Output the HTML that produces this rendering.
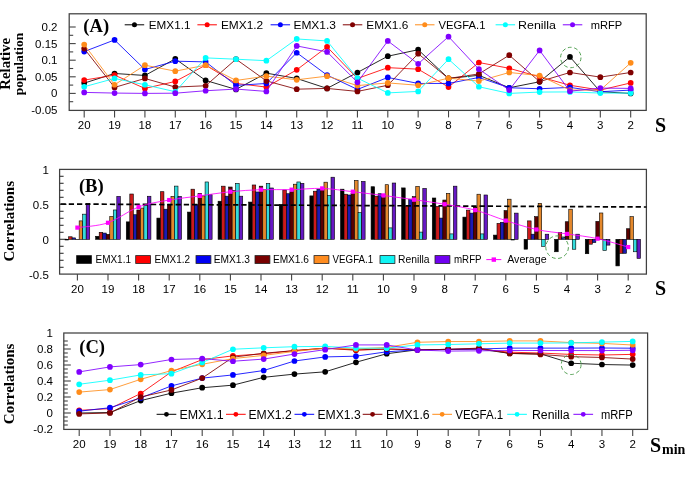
<!DOCTYPE html>
<html><head><meta charset="utf-8"><style>
html,body{margin:0;padding:0;background:#fff;width:685px;height:479px;overflow:hidden}
svg{display:block;will-change:transform}
</style></head><body>
<svg width="685" height="479" viewBox="0 0 685 479">
<rect width="685" height="479" fill="#fff"/>
<rect x="69.2" y="13.8" width="577.0" height="96.60000000000001" fill="none" stroke="#404040" stroke-width="1.25"/>
<line x1="69.2" y1="101.70" x2="73.2" y2="101.70" stroke="#444" stroke-width="1.1"/>
<line x1="69.2" y1="93.40" x2="75.7" y2="93.40" stroke="#444" stroke-width="1.1"/>
<line x1="69.2" y1="85.10" x2="73.2" y2="85.10" stroke="#444" stroke-width="1.1"/>
<line x1="69.2" y1="76.80" x2="75.7" y2="76.80" stroke="#444" stroke-width="1.1"/>
<line x1="69.2" y1="68.50" x2="73.2" y2="68.50" stroke="#444" stroke-width="1.1"/>
<line x1="69.2" y1="60.20" x2="75.7" y2="60.20" stroke="#444" stroke-width="1.1"/>
<line x1="69.2" y1="51.90" x2="73.2" y2="51.90" stroke="#444" stroke-width="1.1"/>
<line x1="69.2" y1="43.60" x2="75.7" y2="43.60" stroke="#444" stroke-width="1.1"/>
<line x1="69.2" y1="35.30" x2="73.2" y2="35.30" stroke="#444" stroke-width="1.1"/>
<line x1="69.2" y1="27.00" x2="75.7" y2="27.00" stroke="#444" stroke-width="1.1"/>
<text x="57.5" y="31.00" text-anchor="end" font-size="11.5" font-family="Liberation Sans, sans-serif">0.2</text>
<text x="57.5" y="47.60" text-anchor="end" font-size="11.5" font-family="Liberation Sans, sans-serif">0.15</text>
<text x="57.5" y="64.20" text-anchor="end" font-size="11.5" font-family="Liberation Sans, sans-serif">0.1</text>
<text x="57.5" y="80.80" text-anchor="end" font-size="11.5" font-family="Liberation Sans, sans-serif">0.05</text>
<text x="57.5" y="97.40" text-anchor="end" font-size="11.5" font-family="Liberation Sans, sans-serif">0</text>
<text x="57.5" y="114.00" text-anchor="end" font-size="11.5" font-family="Liberation Sans, sans-serif">-0.05</text>
<line x1="84.20" y1="110.4" x2="84.20" y2="117.4" stroke="#444" stroke-width="1.1"/>
<text x="84.20" y="128.8" text-anchor="middle" font-size="11.5" font-family="Liberation Sans, sans-serif">20</text>
<line x1="114.56" y1="110.4" x2="114.56" y2="117.4" stroke="#444" stroke-width="1.1"/>
<text x="114.56" y="128.8" text-anchor="middle" font-size="11.5" font-family="Liberation Sans, sans-serif">19</text>
<line x1="144.92" y1="110.4" x2="144.92" y2="117.4" stroke="#444" stroke-width="1.1"/>
<text x="144.92" y="128.8" text-anchor="middle" font-size="11.5" font-family="Liberation Sans, sans-serif">18</text>
<line x1="175.28" y1="110.4" x2="175.28" y2="117.4" stroke="#444" stroke-width="1.1"/>
<text x="175.28" y="128.8" text-anchor="middle" font-size="11.5" font-family="Liberation Sans, sans-serif">17</text>
<line x1="205.64" y1="110.4" x2="205.64" y2="117.4" stroke="#444" stroke-width="1.1"/>
<text x="205.64" y="128.8" text-anchor="middle" font-size="11.5" font-family="Liberation Sans, sans-serif">16</text>
<line x1="236.00" y1="110.4" x2="236.00" y2="117.4" stroke="#444" stroke-width="1.1"/>
<text x="236.00" y="128.8" text-anchor="middle" font-size="11.5" font-family="Liberation Sans, sans-serif">15</text>
<line x1="266.36" y1="110.4" x2="266.36" y2="117.4" stroke="#444" stroke-width="1.1"/>
<text x="266.36" y="128.8" text-anchor="middle" font-size="11.5" font-family="Liberation Sans, sans-serif">14</text>
<line x1="296.72" y1="110.4" x2="296.72" y2="117.4" stroke="#444" stroke-width="1.1"/>
<text x="296.72" y="128.8" text-anchor="middle" font-size="11.5" font-family="Liberation Sans, sans-serif">13</text>
<line x1="327.08" y1="110.4" x2="327.08" y2="117.4" stroke="#444" stroke-width="1.1"/>
<text x="327.08" y="128.8" text-anchor="middle" font-size="11.5" font-family="Liberation Sans, sans-serif">12</text>
<line x1="357.44" y1="110.4" x2="357.44" y2="117.4" stroke="#444" stroke-width="1.1"/>
<text x="357.44" y="128.8" text-anchor="middle" font-size="11.5" font-family="Liberation Sans, sans-serif">11</text>
<line x1="387.80" y1="110.4" x2="387.80" y2="117.4" stroke="#444" stroke-width="1.1"/>
<text x="387.80" y="128.8" text-anchor="middle" font-size="11.5" font-family="Liberation Sans, sans-serif">10</text>
<line x1="418.16" y1="110.4" x2="418.16" y2="117.4" stroke="#444" stroke-width="1.1"/>
<text x="418.16" y="128.8" text-anchor="middle" font-size="11.5" font-family="Liberation Sans, sans-serif">9</text>
<line x1="448.52" y1="110.4" x2="448.52" y2="117.4" stroke="#444" stroke-width="1.1"/>
<text x="448.52" y="128.8" text-anchor="middle" font-size="11.5" font-family="Liberation Sans, sans-serif">8</text>
<line x1="478.88" y1="110.4" x2="478.88" y2="117.4" stroke="#444" stroke-width="1.1"/>
<text x="478.88" y="128.8" text-anchor="middle" font-size="11.5" font-family="Liberation Sans, sans-serif">7</text>
<line x1="509.24" y1="110.4" x2="509.24" y2="117.4" stroke="#444" stroke-width="1.1"/>
<text x="509.24" y="128.8" text-anchor="middle" font-size="11.5" font-family="Liberation Sans, sans-serif">6</text>
<line x1="539.60" y1="110.4" x2="539.60" y2="117.4" stroke="#444" stroke-width="1.1"/>
<text x="539.60" y="128.8" text-anchor="middle" font-size="11.5" font-family="Liberation Sans, sans-serif">5</text>
<line x1="569.96" y1="110.4" x2="569.96" y2="117.4" stroke="#444" stroke-width="1.1"/>
<text x="569.96" y="128.8" text-anchor="middle" font-size="11.5" font-family="Liberation Sans, sans-serif">4</text>
<line x1="600.32" y1="110.4" x2="600.32" y2="117.4" stroke="#444" stroke-width="1.1"/>
<text x="600.32" y="128.8" text-anchor="middle" font-size="11.5" font-family="Liberation Sans, sans-serif">3</text>
<line x1="630.68" y1="110.4" x2="630.68" y2="117.4" stroke="#444" stroke-width="1.1"/>
<text x="630.68" y="128.8" text-anchor="middle" font-size="11.5" font-family="Liberation Sans, sans-serif">2</text>
<polyline points="84.20,83.11 114.56,73.48 144.92,75.47 175.28,58.87 205.64,80.45 236.00,89.42 266.36,73.15 296.72,78.46 327.08,88.42 357.44,72.48 387.80,56.22 418.16,49.71 448.52,78.46 478.88,75.31 509.24,87.76 539.60,81.78 569.96,56.88 600.32,91.74 630.68,93.40" fill="none" stroke="#000000" stroke-width="0.85"/>
<circle cx="84.20" cy="83.11" r="2.85" fill="#000000"/>
<circle cx="114.56" cy="73.48" r="2.85" fill="#000000"/>
<circle cx="144.92" cy="75.47" r="2.85" fill="#000000"/>
<circle cx="175.28" cy="58.87" r="2.85" fill="#000000"/>
<circle cx="205.64" cy="80.45" r="2.85" fill="#000000"/>
<circle cx="236.00" cy="89.42" r="2.85" fill="#000000"/>
<circle cx="266.36" cy="73.15" r="2.85" fill="#000000"/>
<circle cx="296.72" cy="78.46" r="2.85" fill="#000000"/>
<circle cx="327.08" cy="88.42" r="2.85" fill="#000000"/>
<circle cx="357.44" cy="72.48" r="2.85" fill="#000000"/>
<circle cx="387.80" cy="56.22" r="2.85" fill="#000000"/>
<circle cx="418.16" cy="49.71" r="2.85" fill="#000000"/>
<circle cx="448.52" cy="78.46" r="2.85" fill="#000000"/>
<circle cx="478.88" cy="75.31" r="2.85" fill="#000000"/>
<circle cx="509.24" cy="87.76" r="2.85" fill="#000000"/>
<circle cx="539.60" cy="81.78" r="2.85" fill="#000000"/>
<circle cx="569.96" cy="56.88" r="2.85" fill="#000000"/>
<circle cx="600.32" cy="91.74" r="2.85" fill="#000000"/>
<circle cx="630.68" cy="93.40" r="2.85" fill="#000000"/>
<polyline points="84.20,80.12 114.56,75.14 144.92,88.42 175.28,81.45 205.64,65.18 236.00,83.44 266.36,87.09 296.72,69.83 327.08,46.92 357.44,78.46 387.80,67.67 418.16,69.16 448.52,87.09 478.88,62.52 509.24,68.30 539.60,76.80 569.96,85.27 600.32,90.08 630.68,82.91" fill="none" stroke="#ff0000" stroke-width="0.85"/>
<circle cx="84.20" cy="80.12" r="2.85" fill="#ff0000"/>
<circle cx="114.56" cy="75.14" r="2.85" fill="#ff0000"/>
<circle cx="144.92" cy="88.42" r="2.85" fill="#ff0000"/>
<circle cx="175.28" cy="81.45" r="2.85" fill="#ff0000"/>
<circle cx="205.64" cy="65.18" r="2.85" fill="#ff0000"/>
<circle cx="236.00" cy="83.44" r="2.85" fill="#ff0000"/>
<circle cx="266.36" cy="87.09" r="2.85" fill="#ff0000"/>
<circle cx="296.72" cy="69.83" r="2.85" fill="#ff0000"/>
<circle cx="327.08" cy="46.92" r="2.85" fill="#ff0000"/>
<circle cx="357.44" cy="78.46" r="2.85" fill="#ff0000"/>
<circle cx="387.80" cy="67.67" r="2.85" fill="#ff0000"/>
<circle cx="418.16" cy="69.16" r="2.85" fill="#ff0000"/>
<circle cx="448.52" cy="87.09" r="2.85" fill="#ff0000"/>
<circle cx="478.88" cy="62.52" r="2.85" fill="#ff0000"/>
<circle cx="509.24" cy="68.30" r="2.85" fill="#ff0000"/>
<circle cx="539.60" cy="76.80" r="2.85" fill="#ff0000"/>
<circle cx="569.96" cy="85.27" r="2.85" fill="#ff0000"/>
<circle cx="600.32" cy="90.08" r="2.85" fill="#ff0000"/>
<circle cx="630.68" cy="82.91" r="2.85" fill="#ff0000"/>
<polyline points="84.20,51.57 114.56,39.95 144.92,69.50 175.28,61.20 205.64,61.86 236.00,85.43 266.36,83.44 296.72,52.73 327.08,75.14 357.44,89.42 387.80,77.46 418.16,83.44 448.52,83.44 478.88,77.46 509.24,87.76 539.60,88.75 569.96,87.42 600.32,91.74 630.68,90.08" fill="none" stroke="#0000ff" stroke-width="0.85"/>
<circle cx="84.20" cy="51.57" r="2.85" fill="#0000ff"/>
<circle cx="114.56" cy="39.95" r="2.85" fill="#0000ff"/>
<circle cx="144.92" cy="69.50" r="2.85" fill="#0000ff"/>
<circle cx="175.28" cy="61.20" r="2.85" fill="#0000ff"/>
<circle cx="205.64" cy="61.86" r="2.85" fill="#0000ff"/>
<circle cx="236.00" cy="85.43" r="2.85" fill="#0000ff"/>
<circle cx="266.36" cy="83.44" r="2.85" fill="#0000ff"/>
<circle cx="296.72" cy="52.73" r="2.85" fill="#0000ff"/>
<circle cx="327.08" cy="75.14" r="2.85" fill="#0000ff"/>
<circle cx="357.44" cy="89.42" r="2.85" fill="#0000ff"/>
<circle cx="387.80" cy="77.46" r="2.85" fill="#0000ff"/>
<circle cx="418.16" cy="83.44" r="2.85" fill="#0000ff"/>
<circle cx="448.52" cy="83.44" r="2.85" fill="#0000ff"/>
<circle cx="478.88" cy="77.46" r="2.85" fill="#0000ff"/>
<circle cx="509.24" cy="87.76" r="2.85" fill="#0000ff"/>
<circle cx="539.60" cy="88.75" r="2.85" fill="#0000ff"/>
<circle cx="569.96" cy="87.42" r="2.85" fill="#0000ff"/>
<circle cx="600.32" cy="91.74" r="2.85" fill="#0000ff"/>
<circle cx="630.68" cy="90.08" r="2.85" fill="#0000ff"/>
<polyline points="84.20,48.58 114.56,87.42 144.92,78.46 175.28,87.09 205.64,85.76 236.00,59.20 266.36,80.88 296.72,89.18 327.08,88.42 357.44,91.41 387.80,85.27 418.16,53.69 448.52,78.46 478.88,73.91 509.24,55.22 539.60,81.61 569.96,72.48 600.32,77.13 630.68,72.48" fill="none" stroke="#800000" stroke-width="0.85"/>
<circle cx="84.20" cy="48.58" r="2.85" fill="#800000"/>
<circle cx="114.56" cy="87.42" r="2.85" fill="#800000"/>
<circle cx="144.92" cy="78.46" r="2.85" fill="#800000"/>
<circle cx="175.28" cy="87.09" r="2.85" fill="#800000"/>
<circle cx="205.64" cy="85.76" r="2.85" fill="#800000"/>
<circle cx="236.00" cy="59.20" r="2.85" fill="#800000"/>
<circle cx="266.36" cy="80.88" r="2.85" fill="#800000"/>
<circle cx="296.72" cy="89.18" r="2.85" fill="#800000"/>
<circle cx="327.08" cy="88.42" r="2.85" fill="#800000"/>
<circle cx="357.44" cy="91.41" r="2.85" fill="#800000"/>
<circle cx="387.80" cy="85.27" r="2.85" fill="#800000"/>
<circle cx="418.16" cy="53.69" r="2.85" fill="#800000"/>
<circle cx="448.52" cy="78.46" r="2.85" fill="#800000"/>
<circle cx="478.88" cy="73.91" r="2.85" fill="#800000"/>
<circle cx="509.24" cy="55.22" r="2.85" fill="#800000"/>
<circle cx="539.60" cy="81.61" r="2.85" fill="#800000"/>
<circle cx="569.96" cy="72.48" r="2.85" fill="#800000"/>
<circle cx="600.32" cy="77.13" r="2.85" fill="#800000"/>
<circle cx="630.68" cy="72.48" r="2.85" fill="#800000"/>
<polyline points="84.20,44.60 114.56,84.77 144.92,65.18 175.28,71.16 205.64,65.18 236.00,80.45 266.36,76.14 296.72,79.79 327.08,76.14 357.44,85.60 387.80,82.91 418.16,85.27 448.52,78.13 478.88,81.12 509.24,72.48 539.60,75.60 569.96,90.08 600.32,90.08 630.68,62.86" fill="none" stroke="#ff8c1a" stroke-width="0.85"/>
<circle cx="84.20" cy="44.60" r="2.85" fill="#ff8c1a"/>
<circle cx="114.56" cy="84.77" r="2.85" fill="#ff8c1a"/>
<circle cx="144.92" cy="65.18" r="2.85" fill="#ff8c1a"/>
<circle cx="175.28" cy="71.16" r="2.85" fill="#ff8c1a"/>
<circle cx="205.64" cy="65.18" r="2.85" fill="#ff8c1a"/>
<circle cx="236.00" cy="80.45" r="2.85" fill="#ff8c1a"/>
<circle cx="266.36" cy="76.14" r="2.85" fill="#ff8c1a"/>
<circle cx="296.72" cy="79.79" r="2.85" fill="#ff8c1a"/>
<circle cx="327.08" cy="76.14" r="2.85" fill="#ff8c1a"/>
<circle cx="357.44" cy="85.60" r="2.85" fill="#ff8c1a"/>
<circle cx="387.80" cy="82.91" r="2.85" fill="#ff8c1a"/>
<circle cx="418.16" cy="85.27" r="2.85" fill="#ff8c1a"/>
<circle cx="448.52" cy="78.13" r="2.85" fill="#ff8c1a"/>
<circle cx="478.88" cy="81.12" r="2.85" fill="#ff8c1a"/>
<circle cx="509.24" cy="72.48" r="2.85" fill="#ff8c1a"/>
<circle cx="539.60" cy="75.60" r="2.85" fill="#ff8c1a"/>
<circle cx="569.96" cy="90.08" r="2.85" fill="#ff8c1a"/>
<circle cx="600.32" cy="90.08" r="2.85" fill="#ff8c1a"/>
<circle cx="630.68" cy="62.86" r="2.85" fill="#ff8c1a"/>
<polyline points="84.20,86.76 114.56,78.46 144.92,84.77 175.28,91.74 205.64,57.88 236.00,59.20 266.36,60.70 296.72,38.95 327.08,40.94 357.44,78.13 387.80,92.90 418.16,91.41 448.52,59.20 478.88,86.76 509.24,93.40 539.60,92.07 569.96,91.91 600.32,93.07 630.68,93.07" fill="none" stroke="#00ffff" stroke-width="0.85"/>
<circle cx="84.20" cy="86.76" r="2.85" fill="#00ffff"/>
<circle cx="114.56" cy="78.46" r="2.85" fill="#00ffff"/>
<circle cx="144.92" cy="84.77" r="2.85" fill="#00ffff"/>
<circle cx="175.28" cy="91.74" r="2.85" fill="#00ffff"/>
<circle cx="205.64" cy="57.88" r="2.85" fill="#00ffff"/>
<circle cx="236.00" cy="59.20" r="2.85" fill="#00ffff"/>
<circle cx="266.36" cy="60.70" r="2.85" fill="#00ffff"/>
<circle cx="296.72" cy="38.95" r="2.85" fill="#00ffff"/>
<circle cx="327.08" cy="40.94" r="2.85" fill="#00ffff"/>
<circle cx="357.44" cy="78.13" r="2.85" fill="#00ffff"/>
<circle cx="387.80" cy="92.90" r="2.85" fill="#00ffff"/>
<circle cx="418.16" cy="91.41" r="2.85" fill="#00ffff"/>
<circle cx="448.52" cy="59.20" r="2.85" fill="#00ffff"/>
<circle cx="478.88" cy="86.76" r="2.85" fill="#00ffff"/>
<circle cx="509.24" cy="93.40" r="2.85" fill="#00ffff"/>
<circle cx="539.60" cy="92.07" r="2.85" fill="#00ffff"/>
<circle cx="569.96" cy="91.91" r="2.85" fill="#00ffff"/>
<circle cx="600.32" cy="93.07" r="2.85" fill="#00ffff"/>
<circle cx="630.68" cy="93.07" r="2.85" fill="#00ffff"/>
<polyline points="84.20,92.40 114.56,93.07 144.92,93.40 175.28,93.20 205.64,90.74 236.00,89.08 266.36,91.41 296.72,45.92 327.08,51.90 357.44,82.28 387.80,40.94 418.16,63.85 448.52,36.63 478.88,69.16 509.24,90.08 539.60,50.41 569.96,91.18 600.32,88.09 630.68,88.42" fill="none" stroke="#8000ff" stroke-width="0.85"/>
<circle cx="84.20" cy="92.40" r="2.85" fill="#8000ff"/>
<circle cx="114.56" cy="93.07" r="2.85" fill="#8000ff"/>
<circle cx="144.92" cy="93.40" r="2.85" fill="#8000ff"/>
<circle cx="175.28" cy="93.20" r="2.85" fill="#8000ff"/>
<circle cx="205.64" cy="90.74" r="2.85" fill="#8000ff"/>
<circle cx="236.00" cy="89.08" r="2.85" fill="#8000ff"/>
<circle cx="266.36" cy="91.41" r="2.85" fill="#8000ff"/>
<circle cx="296.72" cy="45.92" r="2.85" fill="#8000ff"/>
<circle cx="327.08" cy="51.90" r="2.85" fill="#8000ff"/>
<circle cx="357.44" cy="82.28" r="2.85" fill="#8000ff"/>
<circle cx="387.80" cy="40.94" r="2.85" fill="#8000ff"/>
<circle cx="418.16" cy="63.85" r="2.85" fill="#8000ff"/>
<circle cx="448.52" cy="36.63" r="2.85" fill="#8000ff"/>
<circle cx="478.88" cy="69.16" r="2.85" fill="#8000ff"/>
<circle cx="509.24" cy="90.08" r="2.85" fill="#8000ff"/>
<circle cx="539.60" cy="50.41" r="2.85" fill="#8000ff"/>
<circle cx="569.96" cy="91.18" r="2.85" fill="#8000ff"/>
<circle cx="600.32" cy="88.09" r="2.85" fill="#8000ff"/>
<circle cx="630.68" cy="88.42" r="2.85" fill="#8000ff"/>
<circle cx="570.8" cy="57.5" r="10.2" fill="none" stroke="#4c9c4c" stroke-width="0.95" stroke-dasharray="3.8,2.6"/>
<line x1="124.7" y1="24.8" x2="144.2" y2="24.8" stroke="#000000" stroke-width="1"/>
<circle cx="134.45" cy="24.8" r="2.5" fill="#000000"/>
<text x="148.8" y="28.7" font-size="11" font-family="Liberation Sans, sans-serif" textLength="41.6" lengthAdjust="spacingAndGlyphs">EMX1.1</text>
<line x1="197.4" y1="24.8" x2="216.9" y2="24.8" stroke="#ff0000" stroke-width="1"/>
<circle cx="207.15" cy="24.8" r="2.5" fill="#ff0000"/>
<text x="220.9" y="28.7" font-size="11" font-family="Liberation Sans, sans-serif" textLength="42.3" lengthAdjust="spacingAndGlyphs">EMX1.2</text>
<line x1="270.6" y1="24.8" x2="290.1" y2="24.8" stroke="#0000ff" stroke-width="1"/>
<circle cx="280.35" cy="24.8" r="2.5" fill="#0000ff"/>
<text x="293.4" y="28.7" font-size="11" font-family="Liberation Sans, sans-serif" textLength="42.6" lengthAdjust="spacingAndGlyphs">EMX1.3</text>
<line x1="342.8" y1="24.8" x2="362.3" y2="24.8" stroke="#800000" stroke-width="1"/>
<circle cx="352.55" cy="24.8" r="2.5" fill="#800000"/>
<text x="366.3" y="28.7" font-size="11" font-family="Liberation Sans, sans-serif" textLength="42" lengthAdjust="spacingAndGlyphs">EMX1.6</text>
<line x1="415" y1="24.8" x2="434.5" y2="24.8" stroke="#ff8c1a" stroke-width="1"/>
<circle cx="424.75" cy="24.8" r="2.5" fill="#ff8c1a"/>
<text x="438.5" y="28.7" font-size="11" font-family="Liberation Sans, sans-serif" textLength="47" lengthAdjust="spacingAndGlyphs">VEGFA.1</text>
<line x1="495.6" y1="24.8" x2="515.1" y2="24.8" stroke="#00ffff" stroke-width="1"/>
<circle cx="505.35" cy="24.8" r="2.5" fill="#00ffff"/>
<text x="518" y="28.7" font-size="11" font-family="Liberation Sans, sans-serif" textLength="38" lengthAdjust="spacingAndGlyphs">Renilla</text>
<line x1="562.8" y1="24.8" x2="582.3" y2="24.8" stroke="#8000ff" stroke-width="1"/>
<circle cx="572.55" cy="24.8" r="2.5" fill="#8000ff"/>
<text x="590.7" y="28.7" font-size="11" font-family="Liberation Sans, sans-serif" textLength="31.5" lengthAdjust="spacingAndGlyphs">mRFP</text>
<text x="83.3" y="32.1" font-size="18.6" font-family="Liberation Serif, serif" font-weight="bold">(A)</text>
<text x="655" y="131.6" font-size="20" font-family="Liberation Serif, serif" font-weight="bold">S</text>
<text transform="translate(10.2,63.8) rotate(-90)" text-anchor="middle" font-size="14.8" font-family="Liberation Serif, serif" font-weight="bold">Relative</text>
<text transform="translate(23.4,64) rotate(-90)" text-anchor="middle" font-size="13.5" font-family="Liberation Serif, serif" font-weight="bold">population</text>
<rect x="59.6" y="169.4" width="586.8" height="104.70000000000002" fill="none" stroke="#404040" stroke-width="1.25"/>
<line x1="59.6" y1="267.30" x2="63.6" y2="267.30" stroke="#333" stroke-width="1.1"/>
<line x1="59.6" y1="260.30" x2="63.6" y2="260.30" stroke="#333" stroke-width="1.1"/>
<line x1="59.6" y1="253.30" x2="63.6" y2="253.30" stroke="#333" stroke-width="1.1"/>
<line x1="59.6" y1="246.30" x2="63.6" y2="246.30" stroke="#333" stroke-width="1.1"/>
<line x1="59.6" y1="239.30" x2="66.6" y2="239.30" stroke="#333" stroke-width="1.1"/>
<line x1="59.6" y1="232.30" x2="63.6" y2="232.30" stroke="#333" stroke-width="1.1"/>
<line x1="59.6" y1="225.30" x2="63.6" y2="225.30" stroke="#333" stroke-width="1.1"/>
<line x1="59.6" y1="218.30" x2="63.6" y2="218.30" stroke="#333" stroke-width="1.1"/>
<line x1="59.6" y1="211.30" x2="63.6" y2="211.30" stroke="#333" stroke-width="1.1"/>
<line x1="59.6" y1="204.30" x2="66.6" y2="204.30" stroke="#333" stroke-width="1.1"/>
<line x1="59.6" y1="197.30" x2="63.6" y2="197.30" stroke="#333" stroke-width="1.1"/>
<line x1="59.6" y1="190.30" x2="63.6" y2="190.30" stroke="#333" stroke-width="1.1"/>
<line x1="59.6" y1="183.30" x2="63.6" y2="183.30" stroke="#333" stroke-width="1.1"/>
<line x1="59.6" y1="176.30" x2="63.6" y2="176.30" stroke="#333" stroke-width="1.1"/>
<text x="48.8" y="173.80" text-anchor="end" font-size="11.5" font-family="Liberation Sans, sans-serif">1</text>
<text x="48.8" y="208.80" text-anchor="end" font-size="11.5" font-family="Liberation Sans, sans-serif">0.5</text>
<text x="48.8" y="243.80" text-anchor="end" font-size="11.5" font-family="Liberation Sans, sans-serif">0</text>
<text x="48.8" y="278.80" text-anchor="end" font-size="11.5" font-family="Liberation Sans, sans-serif">-0.5</text>
<line x1="77.40" y1="274.1" x2="77.40" y2="280.6" stroke="#444" stroke-width="1.1"/>
<text x="77.40" y="292.9" text-anchor="middle" font-size="11.5" font-family="Liberation Sans, sans-serif">20</text>
<line x1="108.00" y1="274.1" x2="108.00" y2="280.6" stroke="#444" stroke-width="1.1"/>
<text x="108.00" y="292.9" text-anchor="middle" font-size="11.5" font-family="Liberation Sans, sans-serif">19</text>
<line x1="138.60" y1="274.1" x2="138.60" y2="280.6" stroke="#444" stroke-width="1.1"/>
<text x="138.60" y="292.9" text-anchor="middle" font-size="11.5" font-family="Liberation Sans, sans-serif">18</text>
<line x1="169.20" y1="274.1" x2="169.20" y2="280.6" stroke="#444" stroke-width="1.1"/>
<text x="169.20" y="292.9" text-anchor="middle" font-size="11.5" font-family="Liberation Sans, sans-serif">17</text>
<line x1="199.80" y1="274.1" x2="199.80" y2="280.6" stroke="#444" stroke-width="1.1"/>
<text x="199.80" y="292.9" text-anchor="middle" font-size="11.5" font-family="Liberation Sans, sans-serif">16</text>
<line x1="230.40" y1="274.1" x2="230.40" y2="280.6" stroke="#444" stroke-width="1.1"/>
<text x="230.40" y="292.9" text-anchor="middle" font-size="11.5" font-family="Liberation Sans, sans-serif">15</text>
<line x1="261.00" y1="274.1" x2="261.00" y2="280.6" stroke="#444" stroke-width="1.1"/>
<text x="261.00" y="292.9" text-anchor="middle" font-size="11.5" font-family="Liberation Sans, sans-serif">14</text>
<line x1="291.60" y1="274.1" x2="291.60" y2="280.6" stroke="#444" stroke-width="1.1"/>
<text x="291.60" y="292.9" text-anchor="middle" font-size="11.5" font-family="Liberation Sans, sans-serif">13</text>
<line x1="322.20" y1="274.1" x2="322.20" y2="280.6" stroke="#444" stroke-width="1.1"/>
<text x="322.20" y="292.9" text-anchor="middle" font-size="11.5" font-family="Liberation Sans, sans-serif">12</text>
<line x1="352.80" y1="274.1" x2="352.80" y2="280.6" stroke="#444" stroke-width="1.1"/>
<text x="352.80" y="292.9" text-anchor="middle" font-size="11.5" font-family="Liberation Sans, sans-serif">11</text>
<line x1="383.40" y1="274.1" x2="383.40" y2="280.6" stroke="#444" stroke-width="1.1"/>
<text x="383.40" y="292.9" text-anchor="middle" font-size="11.5" font-family="Liberation Sans, sans-serif">10</text>
<line x1="414.00" y1="274.1" x2="414.00" y2="280.6" stroke="#444" stroke-width="1.1"/>
<text x="414.00" y="292.9" text-anchor="middle" font-size="11.5" font-family="Liberation Sans, sans-serif">9</text>
<line x1="444.60" y1="274.1" x2="444.60" y2="280.6" stroke="#444" stroke-width="1.1"/>
<text x="444.60" y="292.9" text-anchor="middle" font-size="11.5" font-family="Liberation Sans, sans-serif">8</text>
<line x1="475.20" y1="274.1" x2="475.20" y2="280.6" stroke="#444" stroke-width="1.1"/>
<text x="475.20" y="292.9" text-anchor="middle" font-size="11.5" font-family="Liberation Sans, sans-serif">7</text>
<line x1="505.80" y1="274.1" x2="505.80" y2="280.6" stroke="#444" stroke-width="1.1"/>
<text x="505.80" y="292.9" text-anchor="middle" font-size="11.5" font-family="Liberation Sans, sans-serif">6</text>
<line x1="536.40" y1="274.1" x2="536.40" y2="280.6" stroke="#444" stroke-width="1.1"/>
<text x="536.40" y="292.9" text-anchor="middle" font-size="11.5" font-family="Liberation Sans, sans-serif">5</text>
<line x1="567.00" y1="274.1" x2="567.00" y2="280.6" stroke="#444" stroke-width="1.1"/>
<text x="567.00" y="292.9" text-anchor="middle" font-size="11.5" font-family="Liberation Sans, sans-serif">4</text>
<line x1="597.60" y1="274.1" x2="597.60" y2="280.6" stroke="#444" stroke-width="1.1"/>
<text x="597.60" y="292.9" text-anchor="middle" font-size="11.5" font-family="Liberation Sans, sans-serif">3</text>
<line x1="628.20" y1="274.1" x2="628.20" y2="280.6" stroke="#444" stroke-width="1.1"/>
<text x="628.20" y="292.9" text-anchor="middle" font-size="11.5" font-family="Liberation Sans, sans-serif">2</text>
<rect x="65.08" y="239.30" width="3.52" height="0.70" fill="#000000" stroke="#000" stroke-width="0.6"/>
<rect x="68.60" y="236.78" width="3.52" height="2.52" fill="#cc1a1a" stroke="#000" stroke-width="0.6"/>
<rect x="72.12" y="237.90" width="3.52" height="1.40" fill="#1a1ab4" stroke="#000" stroke-width="0.6"/>
<rect x="75.64" y="239.30" width="3.52" height="0.30" fill="#5a0000" stroke="#000" stroke-width="0.6"/>
<rect x="79.16" y="220.89" width="3.52" height="18.41" fill="#e4882c" stroke="#000" stroke-width="0.6"/>
<rect x="82.68" y="214.17" width="3.52" height="25.13" fill="#34dcdc" stroke="#000" stroke-width="0.6"/>
<rect x="86.20" y="203.39" width="3.52" height="35.91" fill="#6618c4" stroke="#000" stroke-width="0.6"/>
<rect x="95.68" y="236.29" width="3.52" height="3.01" fill="#000000" stroke="#000" stroke-width="0.6"/>
<rect x="99.20" y="232.30" width="3.52" height="7.00" fill="#cc1a1a" stroke="#000" stroke-width="0.6"/>
<rect x="102.72" y="233.07" width="3.52" height="6.23" fill="#1a1ab4" stroke="#000" stroke-width="0.6"/>
<rect x="106.24" y="234.33" width="3.52" height="4.97" fill="#5a0000" stroke="#000" stroke-width="0.6"/>
<rect x="109.76" y="216.41" width="3.52" height="22.89" fill="#e4882c" stroke="#000" stroke-width="0.6"/>
<rect x="113.28" y="209.97" width="3.52" height="29.33" fill="#34dcdc" stroke="#000" stroke-width="0.6"/>
<rect x="116.80" y="196.39" width="3.52" height="42.91" fill="#6618c4" stroke="#000" stroke-width="0.6"/>
<rect x="126.28" y="221.87" width="3.52" height="17.43" fill="#000000" stroke="#000" stroke-width="0.6"/>
<rect x="129.80" y="194.01" width="3.52" height="45.29" fill="#cc1a1a" stroke="#000" stroke-width="0.6"/>
<rect x="133.32" y="214.73" width="3.52" height="24.57" fill="#1a1ab4" stroke="#000" stroke-width="0.6"/>
<rect x="136.84" y="209.97" width="3.52" height="29.33" fill="#5a0000" stroke="#000" stroke-width="0.6"/>
<rect x="140.36" y="208.08" width="3.52" height="31.22" fill="#e4882c" stroke="#000" stroke-width="0.6"/>
<rect x="143.88" y="205.63" width="3.52" height="33.67" fill="#34dcdc" stroke="#000" stroke-width="0.6"/>
<rect x="147.40" y="196.25" width="3.52" height="43.05" fill="#6618c4" stroke="#000" stroke-width="0.6"/>
<rect x="156.88" y="218.09" width="3.52" height="21.21" fill="#000000" stroke="#000" stroke-width="0.6"/>
<rect x="160.40" y="191.70" width="3.52" height="47.60" fill="#cc1a1a" stroke="#000" stroke-width="0.6"/>
<rect x="163.92" y="209.20" width="3.52" height="30.10" fill="#1a1ab4" stroke="#000" stroke-width="0.6"/>
<rect x="167.44" y="204.23" width="3.52" height="35.07" fill="#5a0000" stroke="#000" stroke-width="0.6"/>
<rect x="170.96" y="196.39" width="3.52" height="42.91" fill="#e4882c" stroke="#000" stroke-width="0.6"/>
<rect x="174.48" y="186.10" width="3.52" height="53.20" fill="#34dcdc" stroke="#000" stroke-width="0.6"/>
<rect x="178.00" y="196.39" width="3.52" height="42.91" fill="#6618c4" stroke="#000" stroke-width="0.6"/>
<rect x="187.48" y="212.07" width="3.52" height="27.23" fill="#000000" stroke="#000" stroke-width="0.6"/>
<rect x="191.00" y="189.18" width="3.52" height="50.12" fill="#cc1a1a" stroke="#000" stroke-width="0.6"/>
<rect x="194.52" y="204.72" width="3.52" height="34.58" fill="#1a1ab4" stroke="#000" stroke-width="0.6"/>
<rect x="198.04" y="193.38" width="3.52" height="45.92" fill="#5a0000" stroke="#000" stroke-width="0.6"/>
<rect x="201.56" y="195.90" width="3.52" height="43.40" fill="#e4882c" stroke="#000" stroke-width="0.6"/>
<rect x="205.08" y="181.97" width="3.52" height="57.33" fill="#34dcdc" stroke="#000" stroke-width="0.6"/>
<rect x="208.60" y="194.71" width="3.52" height="44.59" fill="#6618c4" stroke="#000" stroke-width="0.6"/>
<rect x="218.08" y="201.22" width="3.52" height="38.08" fill="#000000" stroke="#000" stroke-width="0.6"/>
<rect x="221.60" y="186.17" width="3.52" height="53.13" fill="#cc1a1a" stroke="#000" stroke-width="0.6"/>
<rect x="225.12" y="196.18" width="3.52" height="43.12" fill="#1a1ab4" stroke="#000" stroke-width="0.6"/>
<rect x="228.64" y="187.01" width="3.52" height="52.29" fill="#5a0000" stroke="#000" stroke-width="0.6"/>
<rect x="232.16" y="190.37" width="3.52" height="48.93" fill="#e4882c" stroke="#000" stroke-width="0.6"/>
<rect x="235.68" y="183.37" width="3.52" height="55.93" fill="#34dcdc" stroke="#000" stroke-width="0.6"/>
<rect x="239.20" y="196.18" width="3.52" height="43.12" fill="#6618c4" stroke="#000" stroke-width="0.6"/>
<rect x="248.68" y="202.06" width="3.52" height="37.24" fill="#000000" stroke="#000" stroke-width="0.6"/>
<rect x="252.20" y="184.98" width="3.52" height="54.32" fill="#cc1a1a" stroke="#000" stroke-width="0.6"/>
<rect x="255.72" y="191.98" width="3.52" height="47.32" fill="#1a1ab4" stroke="#000" stroke-width="0.6"/>
<rect x="259.24" y="186.17" width="3.52" height="53.13" fill="#5a0000" stroke="#000" stroke-width="0.6"/>
<rect x="262.76" y="189.67" width="3.52" height="49.63" fill="#e4882c" stroke="#000" stroke-width="0.6"/>
<rect x="266.28" y="183.37" width="3.52" height="55.93" fill="#34dcdc" stroke="#000" stroke-width="0.6"/>
<rect x="269.80" y="187.99" width="3.52" height="51.31" fill="#6618c4" stroke="#000" stroke-width="0.6"/>
<rect x="279.28" y="204.30" width="3.52" height="35.00" fill="#000000" stroke="#000" stroke-width="0.6"/>
<rect x="282.80" y="190.02" width="3.52" height="49.28" fill="#cc1a1a" stroke="#000" stroke-width="0.6"/>
<rect x="286.32" y="193.73" width="3.52" height="45.57" fill="#1a1ab4" stroke="#000" stroke-width="0.6"/>
<rect x="289.84" y="191.70" width="3.52" height="47.60" fill="#5a0000" stroke="#000" stroke-width="0.6"/>
<rect x="293.36" y="184.21" width="3.52" height="55.09" fill="#e4882c" stroke="#000" stroke-width="0.6"/>
<rect x="296.88" y="181.97" width="3.52" height="57.33" fill="#34dcdc" stroke="#000" stroke-width="0.6"/>
<rect x="300.40" y="183.37" width="3.52" height="55.93" fill="#6618c4" stroke="#000" stroke-width="0.6"/>
<rect x="309.88" y="195.90" width="3.52" height="43.40" fill="#000000" stroke="#000" stroke-width="0.6"/>
<rect x="313.40" y="191.21" width="3.52" height="48.09" fill="#cc1a1a" stroke="#000" stroke-width="0.6"/>
<rect x="316.92" y="189.18" width="3.52" height="50.12" fill="#1a1ab4" stroke="#000" stroke-width="0.6"/>
<rect x="320.44" y="189.67" width="3.52" height="49.63" fill="#5a0000" stroke="#000" stroke-width="0.6"/>
<rect x="323.96" y="182.18" width="3.52" height="57.12" fill="#e4882c" stroke="#000" stroke-width="0.6"/>
<rect x="327.48" y="195.41" width="3.52" height="43.89" fill="#34dcdc" stroke="#000" stroke-width="0.6"/>
<rect x="331.00" y="177.21" width="3.52" height="62.09" fill="#6618c4" stroke="#000" stroke-width="0.6"/>
<rect x="340.48" y="189.18" width="3.52" height="50.12" fill="#000000" stroke="#000" stroke-width="0.6"/>
<rect x="344.00" y="194.22" width="3.52" height="45.08" fill="#cc1a1a" stroke="#000" stroke-width="0.6"/>
<rect x="347.52" y="194.99" width="3.52" height="44.31" fill="#1a1ab4" stroke="#000" stroke-width="0.6"/>
<rect x="351.04" y="193.38" width="3.52" height="45.92" fill="#5a0000" stroke="#000" stroke-width="0.6"/>
<rect x="354.56" y="180.43" width="3.52" height="58.87" fill="#e4882c" stroke="#000" stroke-width="0.6"/>
<rect x="358.08" y="212.63" width="3.52" height="26.67" fill="#34dcdc" stroke="#000" stroke-width="0.6"/>
<rect x="361.60" y="181.41" width="3.52" height="57.89" fill="#6618c4" stroke="#000" stroke-width="0.6"/>
<rect x="371.08" y="186.73" width="3.52" height="52.57" fill="#000000" stroke="#000" stroke-width="0.6"/>
<rect x="374.60" y="196.18" width="3.52" height="43.12" fill="#cc1a1a" stroke="#000" stroke-width="0.6"/>
<rect x="378.12" y="193.73" width="3.52" height="45.57" fill="#1a1ab4" stroke="#000" stroke-width="0.6"/>
<rect x="381.64" y="197.51" width="3.52" height="41.79" fill="#5a0000" stroke="#000" stroke-width="0.6"/>
<rect x="385.16" y="184.70" width="3.52" height="54.60" fill="#e4882c" stroke="#000" stroke-width="0.6"/>
<rect x="388.68" y="227.89" width="3.52" height="11.41" fill="#34dcdc" stroke="#000" stroke-width="0.6"/>
<rect x="392.20" y="183.02" width="3.52" height="56.28" fill="#6618c4" stroke="#000" stroke-width="0.6"/>
<rect x="401.68" y="187.92" width="3.52" height="51.38" fill="#000000" stroke="#000" stroke-width="0.6"/>
<rect x="405.20" y="205.91" width="3.52" height="33.39" fill="#cc1a1a" stroke="#000" stroke-width="0.6"/>
<rect x="408.72" y="199.19" width="3.52" height="40.11" fill="#1a1ab4" stroke="#000" stroke-width="0.6"/>
<rect x="412.24" y="196.67" width="3.52" height="42.63" fill="#5a0000" stroke="#000" stroke-width="0.6"/>
<rect x="415.76" y="186.38" width="3.52" height="52.92" fill="#e4882c" stroke="#000" stroke-width="0.6"/>
<rect x="419.28" y="232.09" width="3.52" height="7.21" fill="#34dcdc" stroke="#000" stroke-width="0.6"/>
<rect x="422.80" y="188.41" width="3.52" height="50.89" fill="#6618c4" stroke="#000" stroke-width="0.6"/>
<rect x="432.28" y="198.00" width="3.52" height="41.30" fill="#000000" stroke="#000" stroke-width="0.6"/>
<rect x="435.80" y="206.40" width="3.52" height="32.90" fill="#cc1a1a" stroke="#000" stroke-width="0.6"/>
<rect x="439.32" y="218.09" width="3.52" height="21.21" fill="#1a1ab4" stroke="#000" stroke-width="0.6"/>
<rect x="442.84" y="200.03" width="3.52" height="39.27" fill="#5a0000" stroke="#000" stroke-width="0.6"/>
<rect x="446.36" y="193.38" width="3.52" height="45.92" fill="#e4882c" stroke="#000" stroke-width="0.6"/>
<rect x="449.88" y="233.91" width="3.52" height="5.39" fill="#34dcdc" stroke="#000" stroke-width="0.6"/>
<rect x="453.40" y="186.17" width="3.52" height="53.13" fill="#6618c4" stroke="#000" stroke-width="0.6"/>
<rect x="462.88" y="217.11" width="3.52" height="22.19" fill="#000000" stroke="#000" stroke-width="0.6"/>
<rect x="466.40" y="210.11" width="3.52" height="29.19" fill="#cc1a1a" stroke="#000" stroke-width="0.6"/>
<rect x="469.92" y="213.12" width="3.52" height="26.18" fill="#1a1ab4" stroke="#000" stroke-width="0.6"/>
<rect x="473.44" y="207.10" width="3.52" height="32.20" fill="#5a0000" stroke="#000" stroke-width="0.6"/>
<rect x="476.96" y="194.22" width="3.52" height="45.08" fill="#e4882c" stroke="#000" stroke-width="0.6"/>
<rect x="480.48" y="233.91" width="3.52" height="5.39" fill="#34dcdc" stroke="#000" stroke-width="0.6"/>
<rect x="484.00" y="194.99" width="3.52" height="44.31" fill="#6618c4" stroke="#000" stroke-width="0.6"/>
<rect x="493.48" y="235.10" width="3.52" height="4.20" fill="#000000" stroke="#000" stroke-width="0.6"/>
<rect x="497.00" y="223.41" width="3.52" height="15.89" fill="#cc1a1a" stroke="#000" stroke-width="0.6"/>
<rect x="500.52" y="222.29" width="3.52" height="17.01" fill="#1a1ab4" stroke="#000" stroke-width="0.6"/>
<rect x="504.04" y="210.60" width="3.52" height="28.70" fill="#5a0000" stroke="#000" stroke-width="0.6"/>
<rect x="507.56" y="199.19" width="3.52" height="40.11" fill="#e4882c" stroke="#000" stroke-width="0.6"/>
<rect x="511.08" y="239.30" width="3.52" height="0.70" fill="#34dcdc" stroke="#000" stroke-width="0.6"/>
<rect x="514.60" y="213.12" width="3.52" height="26.18" fill="#6618c4" stroke="#000" stroke-width="0.6"/>
<rect x="524.08" y="239.30" width="3.52" height="9.87" fill="#000000" stroke="#000" stroke-width="0.6"/>
<rect x="527.60" y="220.89" width="3.52" height="18.41" fill="#cc1a1a" stroke="#000" stroke-width="0.6"/>
<rect x="531.12" y="234.19" width="3.52" height="5.11" fill="#1a1ab4" stroke="#000" stroke-width="0.6"/>
<rect x="534.64" y="216.69" width="3.52" height="22.61" fill="#5a0000" stroke="#000" stroke-width="0.6"/>
<rect x="538.16" y="203.32" width="3.52" height="35.98" fill="#e4882c" stroke="#000" stroke-width="0.6"/>
<rect x="541.68" y="239.30" width="3.52" height="7.07" fill="#34dcdc" stroke="#000" stroke-width="0.6"/>
<rect x="545.20" y="234.19" width="3.52" height="5.11" fill="#6618c4" stroke="#000" stroke-width="0.6"/>
<rect x="554.68" y="239.30" width="3.52" height="12.46" fill="#000000" stroke="#000" stroke-width="0.6"/>
<rect x="558.20" y="232.58" width="3.52" height="6.72" fill="#cc1a1a" stroke="#000" stroke-width="0.6"/>
<rect x="561.72" y="236.99" width="3.52" height="2.31" fill="#1a1ab4" stroke="#000" stroke-width="0.6"/>
<rect x="565.24" y="221.73" width="3.52" height="17.57" fill="#5a0000" stroke="#000" stroke-width="0.6"/>
<rect x="568.76" y="209.20" width="3.52" height="30.10" fill="#e4882c" stroke="#000" stroke-width="0.6"/>
<rect x="572.28" y="239.30" width="3.52" height="9.94" fill="#34dcdc" stroke="#000" stroke-width="0.6"/>
<rect x="575.80" y="234.19" width="3.52" height="5.11" fill="#6618c4" stroke="#000" stroke-width="0.6"/>
<rect x="585.28" y="239.30" width="3.52" height="14.42" fill="#000000" stroke="#000" stroke-width="0.6"/>
<rect x="588.80" y="239.30" width="3.52" height="4.90" fill="#cc1a1a" stroke="#000" stroke-width="0.6"/>
<rect x="592.32" y="239.30" width="3.52" height="3.29" fill="#1a1ab4" stroke="#000" stroke-width="0.6"/>
<rect x="595.84" y="221.38" width="3.52" height="17.92" fill="#5a0000" stroke="#000" stroke-width="0.6"/>
<rect x="599.36" y="212.98" width="3.52" height="26.32" fill="#e4882c" stroke="#000" stroke-width="0.6"/>
<rect x="602.88" y="239.30" width="3.52" height="11.13" fill="#34dcdc" stroke="#000" stroke-width="0.6"/>
<rect x="606.40" y="239.30" width="3.52" height="5.81" fill="#6618c4" stroke="#000" stroke-width="0.6"/>
<rect x="615.88" y="239.30" width="3.52" height="26.60" fill="#000000" stroke="#000" stroke-width="0.6"/>
<rect x="619.40" y="239.30" width="3.52" height="14.00" fill="#cc1a1a" stroke="#000" stroke-width="0.6"/>
<rect x="622.92" y="239.30" width="3.52" height="14.00" fill="#1a1ab4" stroke="#000" stroke-width="0.6"/>
<rect x="626.44" y="228.73" width="3.52" height="10.57" fill="#5a0000" stroke="#000" stroke-width="0.6"/>
<rect x="629.96" y="216.69" width="3.52" height="22.61" fill="#e4882c" stroke="#000" stroke-width="0.6"/>
<rect x="633.48" y="239.30" width="3.52" height="12.46" fill="#34dcdc" stroke="#000" stroke-width="0.6"/>
<rect x="637.00" y="239.30" width="3.52" height="19.11" fill="#6618c4" stroke="#000" stroke-width="0.6"/>
<line x1="59.6" y1="204" x2="646.4" y2="207" stroke="#000" stroke-width="1.7" stroke-dasharray="5.3,2.9156" stroke-dashoffset="7.27"/>
<path d="M77.40,227.61 C82.50,226.81 97.80,226.23 108.00,222.78 C118.20,219.33 128.40,210.68 138.60,206.89 C148.80,203.10 159.00,201.86 169.20,200.03 C179.40,198.20 189.60,197.29 199.80,195.90 C210.00,194.51 220.20,192.74 230.40,191.70 C240.60,190.66 250.80,190.01 261.00,189.67 C271.20,189.33 281.40,189.88 291.60,189.67 C301.80,189.46 312.00,188.07 322.20,188.41 C332.40,188.75 342.60,190.53 352.80,191.70 C363.00,192.87 373.20,194.08 383.40,195.41 C393.60,196.74 403.80,198.21 414.00,199.68 C424.20,201.15 434.40,202.49 444.60,204.23 C454.80,205.97 465.00,207.38 475.20,210.11 C485.40,212.84 495.60,217.38 505.80,220.61 C516.00,223.84 526.20,227.28 536.40,229.50 C546.60,231.72 556.80,232.38 567.00,233.91 C577.20,235.44 587.40,236.48 597.60,238.67 C607.80,240.86 623.10,245.67 628.20,247.07" fill="none" stroke="#ff00ff" stroke-width="0.85"/>
<rect x="75.30" y="225.51" width="4.2" height="4.2" fill="#ff00ff"/>
<rect x="105.90" y="220.68" width="4.2" height="4.2" fill="#ff00ff"/>
<rect x="136.50" y="204.79" width="4.2" height="4.2" fill="#ff00ff"/>
<rect x="167.10" y="197.93" width="4.2" height="4.2" fill="#ff00ff"/>
<rect x="197.70" y="193.80" width="4.2" height="4.2" fill="#ff00ff"/>
<rect x="228.30" y="189.60" width="4.2" height="4.2" fill="#ff00ff"/>
<rect x="258.90" y="187.57" width="4.2" height="4.2" fill="#ff00ff"/>
<rect x="289.50" y="187.57" width="4.2" height="4.2" fill="#ff00ff"/>
<rect x="320.10" y="186.31" width="4.2" height="4.2" fill="#ff00ff"/>
<rect x="350.70" y="189.60" width="4.2" height="4.2" fill="#ff00ff"/>
<rect x="381.30" y="193.31" width="4.2" height="4.2" fill="#ff00ff"/>
<rect x="411.90" y="197.58" width="4.2" height="4.2" fill="#ff00ff"/>
<rect x="442.50" y="202.13" width="4.2" height="4.2" fill="#ff00ff"/>
<rect x="473.10" y="208.01" width="4.2" height="4.2" fill="#ff00ff"/>
<rect x="503.70" y="218.51" width="4.2" height="4.2" fill="#ff00ff"/>
<rect x="534.30" y="227.40" width="4.2" height="4.2" fill="#ff00ff"/>
<rect x="564.90" y="231.81" width="4.2" height="4.2" fill="#ff00ff"/>
<rect x="595.50" y="236.57" width="4.2" height="4.2" fill="#ff00ff"/>
<rect x="626.10" y="244.97" width="4.2" height="4.2" fill="#ff00ff"/>
<circle cx="557.1" cy="247.2" r="11.3" fill="none" stroke="#4c9c4c" stroke-width="0.95" stroke-dasharray="3.8,2.6"/>
<rect x="76.6" y="255.6" width="14.9" height="7.9" fill="#000000" stroke="#222" stroke-width="0.8"/>
<text x="95.5" y="263.3" font-size="10.3" font-family="Liberation Sans, sans-serif" textLength="35.5" lengthAdjust="spacingAndGlyphs">EMX1.1</text>
<rect x="135.7" y="255.6" width="14.9" height="7.9" fill="#ff0000" stroke="#222" stroke-width="0.8"/>
<text x="154.6" y="263.3" font-size="10.3" font-family="Liberation Sans, sans-serif" textLength="35.4" lengthAdjust="spacingAndGlyphs">EMX1.2</text>
<rect x="196" y="255.6" width="14.9" height="7.9" fill="#0000f4" stroke="#222" stroke-width="0.8"/>
<text x="213.7" y="263.3" font-size="10.3" font-family="Liberation Sans, sans-serif" textLength="36.3" lengthAdjust="spacingAndGlyphs">EMX1.3</text>
<rect x="255" y="255.6" width="14.9" height="7.9" fill="#780000" stroke="#222" stroke-width="0.8"/>
<text x="272.9" y="263.3" font-size="10.3" font-family="Liberation Sans, sans-serif" textLength="36.1" lengthAdjust="spacingAndGlyphs">EMX1.6</text>
<rect x="314" y="255.6" width="14.9" height="7.9" fill="#ff8c20" stroke="#222" stroke-width="0.8"/>
<text x="332.6" y="263.3" font-size="10.3" font-family="Liberation Sans, sans-serif" textLength="40.6" lengthAdjust="spacingAndGlyphs">VEGFA.1</text>
<rect x="380" y="255.6" width="14.9" height="7.9" fill="#10f4f4" stroke="#222" stroke-width="0.8"/>
<text x="398" y="263.3" font-size="10.3" font-family="Liberation Sans, sans-serif" textLength="31.6" lengthAdjust="spacingAndGlyphs">Renilla</text>
<rect x="435" y="255.6" width="14.9" height="7.9" fill="#7000f0" stroke="#222" stroke-width="0.8"/>
<text x="454" y="263.3" font-size="10.3" font-family="Liberation Sans, sans-serif" textLength="27.6" lengthAdjust="spacingAndGlyphs">mRFP</text>
<line x1="486.3" y1="259.6" x2="501.3" y2="259.6" stroke="#ff00ff" stroke-width="1"/>
<rect x="491.6" y="257.4" width="4.4" height="4.4" fill="#ff00ff"/>
<text x="507.2" y="263.3" font-size="10.3" font-family="Liberation Sans, sans-serif" textLength="39.4" lengthAdjust="spacingAndGlyphs">Average</text>
<text x="78.9" y="191.8" font-size="18.6" font-family="Liberation Serif, serif" font-weight="bold">(B)</text>
<text x="655" y="295" font-size="20" font-family="Liberation Serif, serif" font-weight="bold">S</text>
<text transform="translate(14,221.3) rotate(-90)" text-anchor="middle" font-size="15" font-family="Liberation Serif, serif" font-weight="bold">Correlations</text>
<rect x="63.8" y="333" width="583.8000000000001" height="96.39999999999998" fill="none" stroke="#404040" stroke-width="1.25"/>
<line x1="63.8" y1="425.00" x2="67.8" y2="425.00" stroke="#444" stroke-width="1.1"/>
<line x1="63.8" y1="421.00" x2="67.8" y2="421.00" stroke="#444" stroke-width="1.1"/>
<line x1="63.8" y1="417.00" x2="67.8" y2="417.00" stroke="#444" stroke-width="1.1"/>
<line x1="63.8" y1="413.00" x2="70.8" y2="413.00" stroke="#444" stroke-width="1.1"/>
<line x1="63.8" y1="409.00" x2="67.8" y2="409.00" stroke="#444" stroke-width="1.1"/>
<line x1="63.8" y1="405.00" x2="67.8" y2="405.00" stroke="#444" stroke-width="1.1"/>
<line x1="63.8" y1="401.00" x2="67.8" y2="401.00" stroke="#444" stroke-width="1.1"/>
<line x1="63.8" y1="397.00" x2="70.8" y2="397.00" stroke="#444" stroke-width="1.1"/>
<line x1="63.8" y1="393.00" x2="67.8" y2="393.00" stroke="#444" stroke-width="1.1"/>
<line x1="63.8" y1="389.00" x2="67.8" y2="389.00" stroke="#444" stroke-width="1.1"/>
<line x1="63.8" y1="385.00" x2="67.8" y2="385.00" stroke="#444" stroke-width="1.1"/>
<line x1="63.8" y1="381.00" x2="70.8" y2="381.00" stroke="#444" stroke-width="1.1"/>
<line x1="63.8" y1="377.00" x2="67.8" y2="377.00" stroke="#444" stroke-width="1.1"/>
<line x1="63.8" y1="373.00" x2="67.8" y2="373.00" stroke="#444" stroke-width="1.1"/>
<line x1="63.8" y1="369.00" x2="67.8" y2="369.00" stroke="#444" stroke-width="1.1"/>
<line x1="63.8" y1="365.00" x2="70.8" y2="365.00" stroke="#444" stroke-width="1.1"/>
<line x1="63.8" y1="361.00" x2="67.8" y2="361.00" stroke="#444" stroke-width="1.1"/>
<line x1="63.8" y1="357.00" x2="67.8" y2="357.00" stroke="#444" stroke-width="1.1"/>
<line x1="63.8" y1="353.00" x2="67.8" y2="353.00" stroke="#444" stroke-width="1.1"/>
<line x1="63.8" y1="349.00" x2="70.8" y2="349.00" stroke="#444" stroke-width="1.1"/>
<line x1="63.8" y1="345.00" x2="67.8" y2="345.00" stroke="#444" stroke-width="1.1"/>
<line x1="63.8" y1="341.00" x2="67.8" y2="341.00" stroke="#444" stroke-width="1.1"/>
<text x="53" y="337.30" text-anchor="end" font-size="11.5" font-family="Liberation Sans, sans-serif">1</text>
<text x="53" y="353.30" text-anchor="end" font-size="11.5" font-family="Liberation Sans, sans-serif">0.8</text>
<text x="53" y="369.30" text-anchor="end" font-size="11.5" font-family="Liberation Sans, sans-serif">0.6</text>
<text x="53" y="385.30" text-anchor="end" font-size="11.5" font-family="Liberation Sans, sans-serif">0.4</text>
<text x="53" y="401.30" text-anchor="end" font-size="11.5" font-family="Liberation Sans, sans-serif">0.2</text>
<text x="53" y="417.30" text-anchor="end" font-size="11.5" font-family="Liberation Sans, sans-serif">0</text>
<text x="53" y="433.30" text-anchor="end" font-size="11.5" font-family="Liberation Sans, sans-serif">-0.2</text>
<line x1="79.20" y1="429.4" x2="79.20" y2="435.9" stroke="#444" stroke-width="1.1"/>
<text x="79.20" y="447.8" text-anchor="middle" font-size="11.5" font-family="Liberation Sans, sans-serif">20</text>
<line x1="109.95" y1="429.4" x2="109.95" y2="435.9" stroke="#444" stroke-width="1.1"/>
<text x="109.95" y="447.8" text-anchor="middle" font-size="11.5" font-family="Liberation Sans, sans-serif">19</text>
<line x1="140.70" y1="429.4" x2="140.70" y2="435.9" stroke="#444" stroke-width="1.1"/>
<text x="140.70" y="447.8" text-anchor="middle" font-size="11.5" font-family="Liberation Sans, sans-serif">18</text>
<line x1="171.45" y1="429.4" x2="171.45" y2="435.9" stroke="#444" stroke-width="1.1"/>
<text x="171.45" y="447.8" text-anchor="middle" font-size="11.5" font-family="Liberation Sans, sans-serif">17</text>
<line x1="202.20" y1="429.4" x2="202.20" y2="435.9" stroke="#444" stroke-width="1.1"/>
<text x="202.20" y="447.8" text-anchor="middle" font-size="11.5" font-family="Liberation Sans, sans-serif">16</text>
<line x1="232.95" y1="429.4" x2="232.95" y2="435.9" stroke="#444" stroke-width="1.1"/>
<text x="232.95" y="447.8" text-anchor="middle" font-size="11.5" font-family="Liberation Sans, sans-serif">15</text>
<line x1="263.70" y1="429.4" x2="263.70" y2="435.9" stroke="#444" stroke-width="1.1"/>
<text x="263.70" y="447.8" text-anchor="middle" font-size="11.5" font-family="Liberation Sans, sans-serif">14</text>
<line x1="294.45" y1="429.4" x2="294.45" y2="435.9" stroke="#444" stroke-width="1.1"/>
<text x="294.45" y="447.8" text-anchor="middle" font-size="11.5" font-family="Liberation Sans, sans-serif">13</text>
<line x1="325.20" y1="429.4" x2="325.20" y2="435.9" stroke="#444" stroke-width="1.1"/>
<text x="325.20" y="447.8" text-anchor="middle" font-size="11.5" font-family="Liberation Sans, sans-serif">12</text>
<line x1="355.95" y1="429.4" x2="355.95" y2="435.9" stroke="#444" stroke-width="1.1"/>
<text x="355.95" y="447.8" text-anchor="middle" font-size="11.5" font-family="Liberation Sans, sans-serif">11</text>
<line x1="386.70" y1="429.4" x2="386.70" y2="435.9" stroke="#444" stroke-width="1.1"/>
<text x="386.70" y="447.8" text-anchor="middle" font-size="11.5" font-family="Liberation Sans, sans-serif">10</text>
<line x1="417.45" y1="429.4" x2="417.45" y2="435.9" stroke="#444" stroke-width="1.1"/>
<text x="417.45" y="447.8" text-anchor="middle" font-size="11.5" font-family="Liberation Sans, sans-serif">9</text>
<line x1="448.20" y1="429.4" x2="448.20" y2="435.9" stroke="#444" stroke-width="1.1"/>
<text x="448.20" y="447.8" text-anchor="middle" font-size="11.5" font-family="Liberation Sans, sans-serif">8</text>
<line x1="478.95" y1="429.4" x2="478.95" y2="435.9" stroke="#444" stroke-width="1.1"/>
<text x="478.95" y="447.8" text-anchor="middle" font-size="11.5" font-family="Liberation Sans, sans-serif">7</text>
<line x1="509.70" y1="429.4" x2="509.70" y2="435.9" stroke="#444" stroke-width="1.1"/>
<text x="509.70" y="447.8" text-anchor="middle" font-size="11.5" font-family="Liberation Sans, sans-serif">6</text>
<line x1="540.45" y1="429.4" x2="540.45" y2="435.9" stroke="#444" stroke-width="1.1"/>
<text x="540.45" y="447.8" text-anchor="middle" font-size="11.5" font-family="Liberation Sans, sans-serif">5</text>
<line x1="571.20" y1="429.4" x2="571.20" y2="435.9" stroke="#444" stroke-width="1.1"/>
<text x="571.20" y="447.8" text-anchor="middle" font-size="11.5" font-family="Liberation Sans, sans-serif">4</text>
<line x1="601.95" y1="429.4" x2="601.95" y2="435.9" stroke="#444" stroke-width="1.1"/>
<text x="601.95" y="447.8" text-anchor="middle" font-size="11.5" font-family="Liberation Sans, sans-serif">3</text>
<line x1="632.70" y1="429.4" x2="632.70" y2="435.9" stroke="#444" stroke-width="1.1"/>
<text x="632.70" y="447.8" text-anchor="middle" font-size="11.5" font-family="Liberation Sans, sans-serif">2</text>
<polyline points="79.20,413.00 109.95,412.52 140.70,400.60 171.45,393.16 202.20,387.72 232.95,385.16 263.70,377.32 294.45,374.12 325.20,371.80 355.95,362.28 386.70,353.72 417.45,349.80 448.20,349.40 478.95,349.00 509.70,353.40 540.45,353.80 571.20,363.24 601.95,364.52 632.70,365.08" fill="none" stroke="#000000" stroke-width="0.85"/>
<circle cx="79.20" cy="413.00" r="2.85" fill="#000000"/>
<circle cx="109.95" cy="412.52" r="2.85" fill="#000000"/>
<circle cx="140.70" cy="400.60" r="2.85" fill="#000000"/>
<circle cx="171.45" cy="393.16" r="2.85" fill="#000000"/>
<circle cx="202.20" cy="387.72" r="2.85" fill="#000000"/>
<circle cx="232.95" cy="385.16" r="2.85" fill="#000000"/>
<circle cx="263.70" cy="377.32" r="2.85" fill="#000000"/>
<circle cx="294.45" cy="374.12" r="2.85" fill="#000000"/>
<circle cx="325.20" cy="371.80" r="2.85" fill="#000000"/>
<circle cx="355.95" cy="362.28" r="2.85" fill="#000000"/>
<circle cx="386.70" cy="353.72" r="2.85" fill="#000000"/>
<circle cx="417.45" cy="349.80" r="2.85" fill="#000000"/>
<circle cx="448.20" cy="349.40" r="2.85" fill="#000000"/>
<circle cx="478.95" cy="349.00" r="2.85" fill="#000000"/>
<circle cx="509.70" cy="353.40" r="2.85" fill="#000000"/>
<circle cx="540.45" cy="353.80" r="2.85" fill="#000000"/>
<circle cx="571.20" cy="363.24" r="2.85" fill="#000000"/>
<circle cx="601.95" cy="364.52" r="2.85" fill="#000000"/>
<circle cx="632.70" cy="365.08" r="2.85" fill="#000000"/>
<polyline points="79.20,410.36 109.95,408.60 140.70,393.48 171.45,371.88 202.20,359.64 232.95,355.88 263.70,353.80 294.45,350.60 325.20,348.20 355.95,350.28 386.70,349.00 417.45,349.80 448.20,349.40 478.95,349.00 509.70,352.20 540.45,353.00 571.20,354.44 601.95,355.00 632.70,354.36" fill="none" stroke="#ff0000" stroke-width="0.85"/>
<circle cx="79.20" cy="410.36" r="2.85" fill="#ff0000"/>
<circle cx="109.95" cy="408.60" r="2.85" fill="#ff0000"/>
<circle cx="140.70" cy="393.48" r="2.85" fill="#ff0000"/>
<circle cx="171.45" cy="371.88" r="2.85" fill="#ff0000"/>
<circle cx="202.20" cy="359.64" r="2.85" fill="#ff0000"/>
<circle cx="232.95" cy="355.88" r="2.85" fill="#ff0000"/>
<circle cx="263.70" cy="353.80" r="2.85" fill="#ff0000"/>
<circle cx="294.45" cy="350.60" r="2.85" fill="#ff0000"/>
<circle cx="325.20" cy="348.20" r="2.85" fill="#ff0000"/>
<circle cx="355.95" cy="350.28" r="2.85" fill="#ff0000"/>
<circle cx="386.70" cy="349.00" r="2.85" fill="#ff0000"/>
<circle cx="417.45" cy="349.80" r="2.85" fill="#ff0000"/>
<circle cx="448.20" cy="349.40" r="2.85" fill="#ff0000"/>
<circle cx="478.95" cy="349.00" r="2.85" fill="#ff0000"/>
<circle cx="509.70" cy="352.20" r="2.85" fill="#ff0000"/>
<circle cx="540.45" cy="353.00" r="2.85" fill="#ff0000"/>
<circle cx="571.20" cy="354.44" r="2.85" fill="#ff0000"/>
<circle cx="601.95" cy="355.00" r="2.85" fill="#ff0000"/>
<circle cx="632.70" cy="354.36" r="2.85" fill="#ff0000"/>
<polyline points="79.20,411.20 109.95,407.72 140.70,397.88 171.45,385.88 202.20,378.12 232.95,374.92 263.70,370.52 294.45,361.00 325.20,356.92 355.95,356.20 386.70,351.80 417.45,349.80 448.20,349.40 478.95,349.00 509.70,348.12 540.45,348.12 571.20,348.12 601.95,348.00 632.70,348.20" fill="none" stroke="#0000ff" stroke-width="0.85"/>
<circle cx="79.20" cy="411.20" r="2.85" fill="#0000ff"/>
<circle cx="109.95" cy="407.72" r="2.85" fill="#0000ff"/>
<circle cx="140.70" cy="397.88" r="2.85" fill="#0000ff"/>
<circle cx="171.45" cy="385.88" r="2.85" fill="#0000ff"/>
<circle cx="202.20" cy="378.12" r="2.85" fill="#0000ff"/>
<circle cx="232.95" cy="374.92" r="2.85" fill="#0000ff"/>
<circle cx="263.70" cy="370.52" r="2.85" fill="#0000ff"/>
<circle cx="294.45" cy="361.00" r="2.85" fill="#0000ff"/>
<circle cx="325.20" cy="356.92" r="2.85" fill="#0000ff"/>
<circle cx="355.95" cy="356.20" r="2.85" fill="#0000ff"/>
<circle cx="386.70" cy="351.80" r="2.85" fill="#0000ff"/>
<circle cx="417.45" cy="349.80" r="2.85" fill="#0000ff"/>
<circle cx="448.20" cy="349.40" r="2.85" fill="#0000ff"/>
<circle cx="478.95" cy="349.00" r="2.85" fill="#0000ff"/>
<circle cx="509.70" cy="348.12" r="2.85" fill="#0000ff"/>
<circle cx="540.45" cy="348.12" r="2.85" fill="#0000ff"/>
<circle cx="571.20" cy="348.12" r="2.85" fill="#0000ff"/>
<circle cx="601.95" cy="348.00" r="2.85" fill="#0000ff"/>
<circle cx="632.70" cy="348.20" r="2.85" fill="#0000ff"/>
<polyline points="79.20,413.88 109.95,413.00 140.70,397.00 171.45,389.96 202.20,378.12 232.95,357.24 263.70,353.24 294.45,350.60 325.20,348.20 355.95,349.80 386.70,349.00 417.45,349.80 448.20,349.40 478.95,348.12 509.70,353.40 540.45,354.44 571.20,356.68 601.95,357.48 632.70,359.08" fill="none" stroke="#800000" stroke-width="0.85"/>
<circle cx="79.20" cy="413.88" r="2.85" fill="#800000"/>
<circle cx="109.95" cy="413.00" r="2.85" fill="#800000"/>
<circle cx="140.70" cy="397.00" r="2.85" fill="#800000"/>
<circle cx="171.45" cy="389.96" r="2.85" fill="#800000"/>
<circle cx="202.20" cy="378.12" r="2.85" fill="#800000"/>
<circle cx="232.95" cy="357.24" r="2.85" fill="#800000"/>
<circle cx="263.70" cy="353.24" r="2.85" fill="#800000"/>
<circle cx="294.45" cy="350.60" r="2.85" fill="#800000"/>
<circle cx="325.20" cy="348.20" r="2.85" fill="#800000"/>
<circle cx="355.95" cy="349.80" r="2.85" fill="#800000"/>
<circle cx="386.70" cy="349.00" r="2.85" fill="#800000"/>
<circle cx="417.45" cy="349.80" r="2.85" fill="#800000"/>
<circle cx="448.20" cy="349.40" r="2.85" fill="#800000"/>
<circle cx="478.95" cy="348.12" r="2.85" fill="#800000"/>
<circle cx="509.70" cy="353.40" r="2.85" fill="#800000"/>
<circle cx="540.45" cy="354.44" r="2.85" fill="#800000"/>
<circle cx="571.20" cy="356.68" r="2.85" fill="#800000"/>
<circle cx="601.95" cy="357.48" r="2.85" fill="#800000"/>
<circle cx="632.70" cy="359.08" r="2.85" fill="#800000"/>
<polyline points="79.20,392.12 109.95,389.56 140.70,379.32 171.45,370.52 202.20,364.28 232.95,358.60 263.70,355.40 294.45,351.40 325.20,348.20 355.95,349.00 386.70,347.40 417.45,342.28 448.20,341.56 478.95,341.56 509.70,340.92 540.45,340.92 571.20,342.60 601.95,343.40 632.70,345.00" fill="none" stroke="#ff8c1a" stroke-width="0.85"/>
<circle cx="79.20" cy="392.12" r="2.85" fill="#ff8c1a"/>
<circle cx="109.95" cy="389.56" r="2.85" fill="#ff8c1a"/>
<circle cx="140.70" cy="379.32" r="2.85" fill="#ff8c1a"/>
<circle cx="171.45" cy="370.52" r="2.85" fill="#ff8c1a"/>
<circle cx="202.20" cy="364.28" r="2.85" fill="#ff8c1a"/>
<circle cx="232.95" cy="358.60" r="2.85" fill="#ff8c1a"/>
<circle cx="263.70" cy="355.40" r="2.85" fill="#ff8c1a"/>
<circle cx="294.45" cy="351.40" r="2.85" fill="#ff8c1a"/>
<circle cx="325.20" cy="348.20" r="2.85" fill="#ff8c1a"/>
<circle cx="355.95" cy="349.00" r="2.85" fill="#ff8c1a"/>
<circle cx="386.70" cy="347.40" r="2.85" fill="#ff8c1a"/>
<circle cx="417.45" cy="342.28" r="2.85" fill="#ff8c1a"/>
<circle cx="448.20" cy="341.56" r="2.85" fill="#ff8c1a"/>
<circle cx="478.95" cy="341.56" r="2.85" fill="#ff8c1a"/>
<circle cx="509.70" cy="340.92" r="2.85" fill="#ff8c1a"/>
<circle cx="540.45" cy="340.92" r="2.85" fill="#ff8c1a"/>
<circle cx="571.20" cy="342.60" r="2.85" fill="#ff8c1a"/>
<circle cx="601.95" cy="343.40" r="2.85" fill="#ff8c1a"/>
<circle cx="632.70" cy="345.00" r="2.85" fill="#ff8c1a"/>
<polyline points="79.20,384.28 109.95,380.20 140.70,374.92 171.45,373.64 202.20,362.52 232.95,349.24 263.70,347.80 294.45,346.68 325.20,346.36 355.95,348.12 386.70,348.20 417.45,344.92 448.20,344.52 478.95,343.80 509.70,343.08 540.45,343.08 571.20,342.92 601.95,342.12 632.70,341.40" fill="none" stroke="#00ffff" stroke-width="0.85"/>
<circle cx="79.20" cy="384.28" r="2.85" fill="#00ffff"/>
<circle cx="109.95" cy="380.20" r="2.85" fill="#00ffff"/>
<circle cx="140.70" cy="374.92" r="2.85" fill="#00ffff"/>
<circle cx="171.45" cy="373.64" r="2.85" fill="#00ffff"/>
<circle cx="202.20" cy="362.52" r="2.85" fill="#00ffff"/>
<circle cx="232.95" cy="349.24" r="2.85" fill="#00ffff"/>
<circle cx="263.70" cy="347.80" r="2.85" fill="#00ffff"/>
<circle cx="294.45" cy="346.68" r="2.85" fill="#00ffff"/>
<circle cx="325.20" cy="346.36" r="2.85" fill="#00ffff"/>
<circle cx="355.95" cy="348.12" r="2.85" fill="#00ffff"/>
<circle cx="386.70" cy="348.20" r="2.85" fill="#00ffff"/>
<circle cx="417.45" cy="344.92" r="2.85" fill="#00ffff"/>
<circle cx="448.20" cy="344.52" r="2.85" fill="#00ffff"/>
<circle cx="478.95" cy="343.80" r="2.85" fill="#00ffff"/>
<circle cx="509.70" cy="343.08" r="2.85" fill="#00ffff"/>
<circle cx="540.45" cy="343.08" r="2.85" fill="#00ffff"/>
<circle cx="571.20" cy="342.92" r="2.85" fill="#00ffff"/>
<circle cx="601.95" cy="342.12" r="2.85" fill="#00ffff"/>
<circle cx="632.70" cy="341.40" r="2.85" fill="#00ffff"/>
<polyline points="79.20,371.88 109.95,366.92 140.70,364.60 171.45,359.48 202.20,358.60 232.95,361.24 263.70,359.08 294.45,354.04 325.20,349.64 355.95,344.92 386.70,344.92 417.45,350.04 448.20,351.08 478.95,350.84 509.70,350.52 540.45,350.52 571.20,350.52 601.95,350.60 632.70,350.28" fill="none" stroke="#8000ff" stroke-width="0.85"/>
<circle cx="79.20" cy="371.88" r="2.85" fill="#8000ff"/>
<circle cx="109.95" cy="366.92" r="2.85" fill="#8000ff"/>
<circle cx="140.70" cy="364.60" r="2.85" fill="#8000ff"/>
<circle cx="171.45" cy="359.48" r="2.85" fill="#8000ff"/>
<circle cx="202.20" cy="358.60" r="2.85" fill="#8000ff"/>
<circle cx="232.95" cy="361.24" r="2.85" fill="#8000ff"/>
<circle cx="263.70" cy="359.08" r="2.85" fill="#8000ff"/>
<circle cx="294.45" cy="354.04" r="2.85" fill="#8000ff"/>
<circle cx="325.20" cy="349.64" r="2.85" fill="#8000ff"/>
<circle cx="355.95" cy="344.92" r="2.85" fill="#8000ff"/>
<circle cx="386.70" cy="344.92" r="2.85" fill="#8000ff"/>
<circle cx="417.45" cy="350.04" r="2.85" fill="#8000ff"/>
<circle cx="448.20" cy="351.08" r="2.85" fill="#8000ff"/>
<circle cx="478.95" cy="350.84" r="2.85" fill="#8000ff"/>
<circle cx="509.70" cy="350.52" r="2.85" fill="#8000ff"/>
<circle cx="540.45" cy="350.52" r="2.85" fill="#8000ff"/>
<circle cx="571.20" cy="350.52" r="2.85" fill="#8000ff"/>
<circle cx="601.95" cy="350.60" r="2.85" fill="#8000ff"/>
<circle cx="632.70" cy="350.28" r="2.85" fill="#8000ff"/>
<circle cx="571.2" cy="364.6" r="9.9" fill="none" stroke="#4c9c4c" stroke-width="0.95" stroke-dasharray="3.8,2.6"/>
<line x1="156.6" y1="414.3" x2="176.29999999999998" y2="414.3" stroke="#000000" stroke-width="1"/>
<circle cx="166.45" cy="414.3" r="2.4" fill="#000000"/>
<text x="179.4" y="418.6" font-size="12" font-family="Liberation Sans, sans-serif" textLength="44.2" lengthAdjust="spacingAndGlyphs">EMX1.1</text>
<line x1="226" y1="414.3" x2="245.7" y2="414.3" stroke="#ff0000" stroke-width="1"/>
<circle cx="235.85" cy="414.3" r="2.4" fill="#ff0000"/>
<text x="248.4" y="418.6" font-size="12" font-family="Liberation Sans, sans-serif" textLength="43.4" lengthAdjust="spacingAndGlyphs">EMX1.2</text>
<line x1="294.5" y1="414.3" x2="314.2" y2="414.3" stroke="#0000ff" stroke-width="1"/>
<circle cx="304.35" cy="414.3" r="2.4" fill="#0000ff"/>
<text x="317.4" y="418.6" font-size="12" font-family="Liberation Sans, sans-serif" textLength="43.3" lengthAdjust="spacingAndGlyphs">EMX1.3</text>
<line x1="362.7" y1="414.3" x2="382.4" y2="414.3" stroke="#800000" stroke-width="1"/>
<circle cx="372.55" cy="414.3" r="2.4" fill="#800000"/>
<text x="386" y="418.6" font-size="12" font-family="Liberation Sans, sans-serif" textLength="43.6" lengthAdjust="spacingAndGlyphs">EMX1.6</text>
<line x1="432.3" y1="414.3" x2="452.0" y2="414.3" stroke="#ff8c1a" stroke-width="1"/>
<circle cx="442.15000000000003" cy="414.3" r="2.4" fill="#ff8c1a"/>
<text x="455.2" y="418.6" font-size="12" font-family="Liberation Sans, sans-serif" textLength="48.1" lengthAdjust="spacingAndGlyphs">VEGFA.1</text>
<line x1="507.2" y1="414.3" x2="526.9" y2="414.3" stroke="#00ffff" stroke-width="1"/>
<circle cx="517.05" cy="414.3" r="2.4" fill="#00ffff"/>
<text x="532" y="418.6" font-size="12" font-family="Liberation Sans, sans-serif" textLength="37.5" lengthAdjust="spacingAndGlyphs">Renilla</text>
<line x1="573.4" y1="414.3" x2="593.1" y2="414.3" stroke="#8000ff" stroke-width="1"/>
<circle cx="583.25" cy="414.3" r="2.4" fill="#8000ff"/>
<text x="601" y="418.6" font-size="12" font-family="Liberation Sans, sans-serif" textLength="31.6" lengthAdjust="spacingAndGlyphs">mRFP</text>
<text x="79.2" y="352.6" font-size="18.6" font-family="Liberation Serif, serif" font-weight="bold">(C)</text>
<text x="650" y="452" font-size="20" font-family="Liberation Serif, serif" font-weight="bold">S</text>
<text x="662" y="454" font-size="14" font-family="Liberation Serif, serif" font-weight="bold">min</text>
<text transform="translate(14.2,383.9) rotate(-90)" text-anchor="middle" font-size="15" font-family="Liberation Serif, serif" font-weight="bold">Correlations</text>
</svg>
</body></html>
